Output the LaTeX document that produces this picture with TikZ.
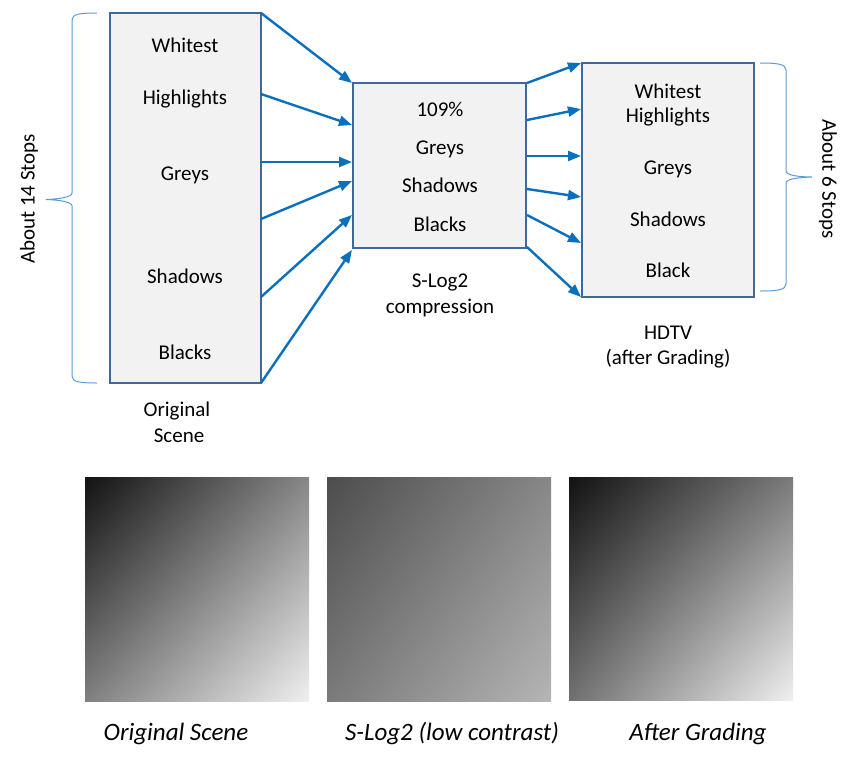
\documentclass[tikz,border=0pt]{standalone}
\usepackage{fontspec}
\setmainfont{Carlito}
\usetikzlibrary{arrows.meta,calc,shadings}
\definecolor{boxfill}{HTML}{F2F2F2}
\definecolor{boxline}{HTML}{41689A}
\definecolor{flowblue}{HTML}{0A70BE}
\definecolor{bracecol}{HTML}{5B9BD5}
\definecolor{g17}{gray}{0.07}
\definecolor{g76}{gray}{0.30}
\definecolor{g112}{gray}{0.44}
\definecolor{g122}{gray}{0.48}
\definecolor{g128}{gray}{0.50}
\definecolor{g136}{gray}{0.53}
\definecolor{g180}{gray}{0.71}
\definecolor{g240}{gray}{0.94}

\begin{document}
\begin{tikzpicture}[x=1pt,y=-1pt,
    level/.style={draw=boxline,line width=2pt,fill=boxfill,inner sep=0pt},
    tone/.style={font=\fontsize{21}{25}\selectfont,anchor=base},
    flow/.style={flowblue,line width=2.4pt,-{Triangle[length=13pt,width=10pt]}},
    stops/.style={bracecol,line width=1pt},
    caption/.style={font=\fontsize{25}{30}\selectfont\itshape,anchor=base}]

    \useasboundingbox (0,0) rectangle (852,761);

    % the three tone ranges
    \node[level,minimum width=151pt,minimum height=370pt] (orig) at (185.5,198) {};
    \node[level,minimum width=173pt,minimum height=165pt] (slog) at (439.5,165.5) {};
    \node[level,minimum width=172pt,minimum height=234pt] (hdtv) at (668,180) {};

    % Original scene
    \node[tone] (o-white) at (185,52) {Whitest};
    \node[tone] (o-high) at (185,104) {Highlights};
    \node[tone] (o-grey) at (185,180) {Greys};
    \node[tone] (o-shad) at (185,283) {Shadows};
    \node[tone] (o-black) at (185,359) {Blacks};
    \node[tone] (o-lab1) at (177,416) {Original};
    \node[tone] (o-lab2) at (179,442) {Scene};

    % S-Log2
    \node[tone] (s-top) at (440,116) {109\%};
    \node[tone] (s-grey) at (440,154) {Greys};
    \node[tone] (s-shad) at (440,192) {Shadows};
    \node[tone] (s-black) at (440,231) {Blacks};
    \node[tone] (s-lab1) at (440,287) {S-Log2};
    \node[tone] (s-lab2) at (440,313) {compression};

    % HDTV
    \node[tone] (h-white) at (668,98) {Whitest};
    \node[tone] (h-high) at (668,122) {Highlights};
    \node[tone] (h-grey) at (668,174) {Greys};
    \node[tone] (h-shad) at (668,226) {Shadows};
    \node[tone] (h-black) at (668,277) {Black};
    \node[tone] (h-lab1) at (668,339) {HDTV};
    \node[tone] (h-lab2) at (668,364) {(after Grading)};

    % arrow ends
    \coordinate (oa) at (261,13);  \coordinate (sa) at (352,83);
    \coordinate (ob) at (261,94);  \coordinate (sb) at (352,125);
    \coordinate (oc) at (261,162); \coordinate (sc) at (352,162);
    \coordinate (od) at (261,219); \coordinate (sd) at (352,181);
    \coordinate (oe) at (261,297); \coordinate (se) at (352,215);
    \coordinate (of) at (261,383); \coordinate (sf) at (352,250);

    \coordinate (ta) at (527,83);  \coordinate (ha) at (581,63);
    \coordinate (tb) at (527,120); \coordinate (hb) at (581,109);
    \coordinate (tc) at (527,156); \coordinate (hc) at (581,156);
    \coordinate (td) at (527,189); \coordinate (hd) at (581,197);
    \coordinate (te) at (527,215); \coordinate (he) at (581,243);
    \coordinate (tf) at (527,247); \coordinate (hf) at (581,297);

    \foreach \i in {a,b,c,d,e,f}{
        \draw[flow] (o\i) -- (s\i);
        \draw[flow] (t\i) -- (h\i);
    }

    % braces
    \draw[stops] (97,13) .. controls (80,13) and (72,14) .. (72,20) -- (72,193)
        .. controls (72,197) and (60,199) .. (46,199.5)
        .. controls (60,200) and (72,202) .. (72,206) -- (72,376)
        .. controls (72,382) and (80,383) .. (97,383);
    \draw[stops] (760,63) .. controls (777,63) and (786,64) .. (786,70) -- (786,171)
        .. controls (786,175) and (798,177) .. (812,177)
        .. controls (798,177.5) and (786,179) .. (786,183) -- (786,284)
        .. controls (786,290) and (777,291) .. (760,291);
    \node[font=\fontsize{21}{25}\selectfont,rotate=90] (wide) at (29,199) {About 14 Stops};
    \node[font=\fontsize{21}{25}\selectfont,rotate=-90] (narrow) at (828,179) {About 6 Stops};

    % gradient squares
    \shade[upper left=g17,upper right=g136,lower left=g128,lower right=g240]
        (85,477) rectangle (309,701);
    \shade[upper left=g76,upper right=g136,lower left=g122,lower right=g180]
        (327,477) rectangle (551,701);
    \shade[upper left=g17,upper right=g122,lower left=g112,lower right=g240]
        (569,477) rectangle (793,700);

    \node[caption] (c-orig) at (176,740) {Original Scene};
    \node[caption] (c-slog) at (452,740) {S-Log2 (low contrast)};
    \node[caption] (c-grade) at (698,740) {After Grading};
\end{tikzpicture}
\end{document}
